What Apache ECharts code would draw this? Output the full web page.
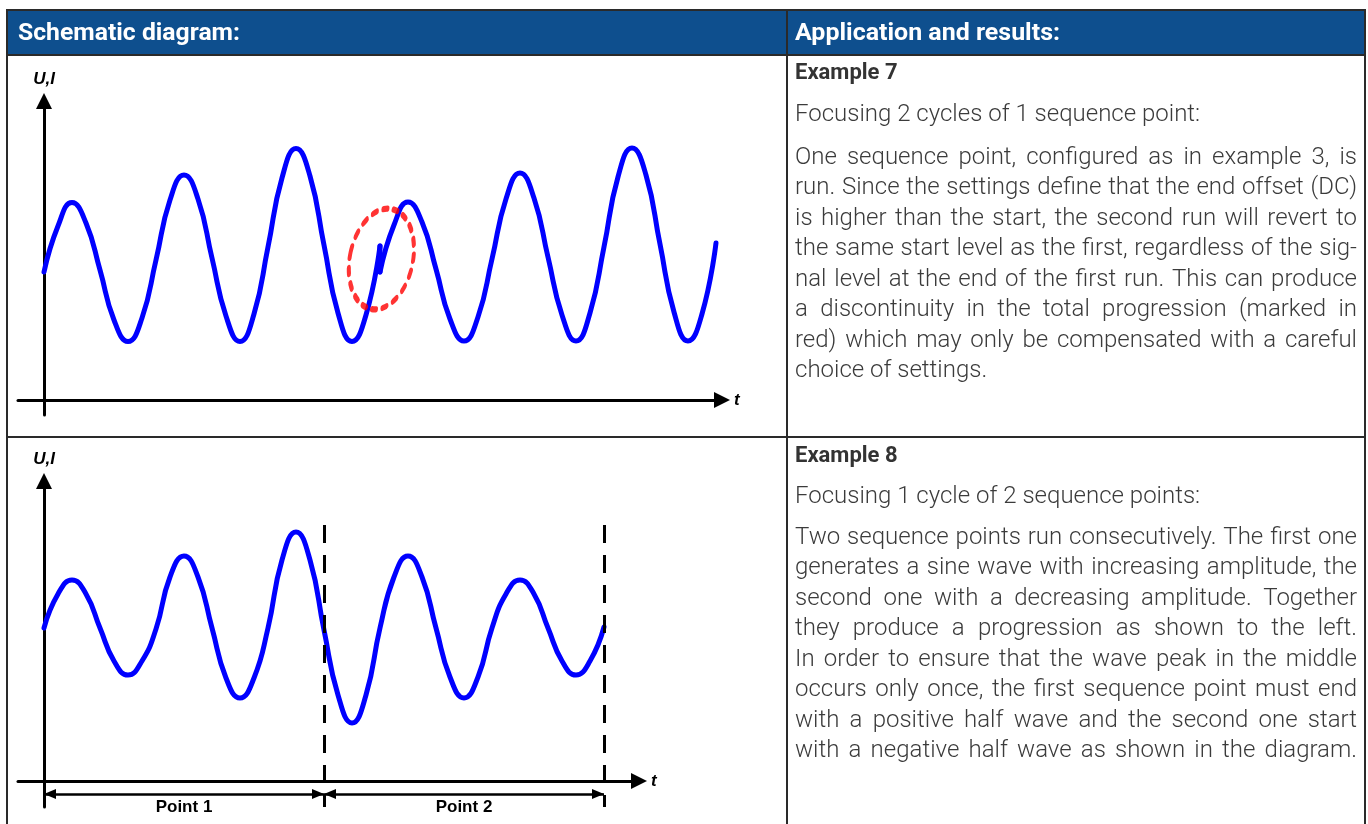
<!DOCTYPE html>
<html><head><meta charset="utf-8">
<script src="https://cdn.jsdelivr.net/npm/echarts@6.0.0/dist/echarts.min.js"></script>
<style>html,body{margin:0;padding:0;background:#fff}#main{width:1368px;height:824px}</style>
</head><body><div id="main"></div>
<script>
// ---------------- data ----------------
// Example 7 – one sequence point run twice; samples every 1/8 cycle, level above the t axis
const run1Values = [128, 174, 197.5, 177, 130, 80, 58.5, 82, 140, 200, 225, 201, 142, 84, 58.5, 86, 153, 222, 251.5, 224, 155, 87, 58.5, 85, 154];
const run2Values = [128, 175, 198, 178, 131, 81, 59, 83, 141, 201, 227, 202, 143, 85, 59, 87, 153, 223, 252, 225, 156, 88, 59, 86, 157];
const jumpValues = [154, 128];          // end of run 1 -> start level of run 2
const discontinuity = [24.1, 141];      // marked in red
// Example 8 – two sequence points, increasing then decreasing amplitude
const point1Values = [153, 187, 201, 187, 153, 120, 106, 120, 152, 204, 225, 204, 153, 103, 83, 103, 153, 221, 249, 221, 151];
const point2Values = [151, 86, 58, 86, 153, 204, 225, 204, 153, 104, 83, 104, 153, 187, 201, 187, 153, 120, 106, 120, 154];
const pointBounds = [0, 20, 40];
const pointLabels = ['Point 1', 'Point 2'];
const dimLevel = -13;
const boundTop = 256;
// texts
const headerLabels = ['Schematic diagram:', 'Application and results:'];
const ex7Title = 'Example 7';
const ex7Sub = 'Focusing 2 cycles of 1 sequence point:';
const ex7Lines = [
  'One sequence point, configured as in example 3, is',
  'run. Since the settings define that the end offset (DC)',
  'is higher than the start, the second run will revert to',
  'the same start level as the first, regardless of the sig-',
  'nal level at the end of the first run. This can produce',
  'a discontinuity in the total progression (marked in',
  'red) which may only be compensated with a careful',
  'choice of settings.'
];
const ex8Title = 'Example 8';
const ex8Sub = 'Focusing 1 cycle of 2 sequence points:';
const ex8Lines = [
  'Two sequence points run consecutively. The first one',
  'generates a sine wave with increasing amplitude, the',
  'second one with a decreasing amplitude. Together',
  'they produce a progression as shown to the left.',
  'In order to ensure that the wave peak in the middle',
  'occurs only once, the first sequence point must end',
  'with a positive half wave and the second one start',
  'with a negative half wave as shown in the diagram.'
];

// ---------------- build ----------------
const run1Data = run1Values.map((v, i) => [i, v]);
const off2 = run1Values.length - 1;
const run2Data = run2Values.map((v, i) => [off2 + i, v]);
const jumpData = jumpValues.map(v => [off2, v]);
const waveValues = point1Values.concat(point2Values.slice(1));
const waveData = waveValues.map((v, i) => [i, v]);

const BLUE = '#0000ff';
const TEXT = '#3b3b3b';
const BORDER = '#2a2a2a';
const bodyFont = { weight: 300, size: 24, family: 'Roboto' };

const ctx = document.createElement('canvas').getContext('2d');
function fontStr(f) { return f.weight + ' ' + f.size + 'px ' + f.family; }

function justify(lines, x0, x1, y0, lh, f, lastLeft) {
  const els = [];
  const fs = fontStr(f);
  ctx.font = fs;
  const sp = ctx.measureText(' ').width;
  lines.forEach((line, i) => {
    const y = y0 + i * lh;
    const words = line.split(' ');
    const widths = words.map(w => ctx.measureText(w).width);
    const total = widths.reduce((a, b) => a + b, 0);
    const last = lastLeft && i === lines.length - 1;
    let gap = (!last && words.length > 1) ? (x1 - x0 - total) / (words.length - 1) : sp;
    let sx = 1;
    if (gap < sp * 0.5) {            // too long: keep a minimal gap and condense slightly
      gap = sp * 0.5;
      sx = (x1 - x0 - gap * (words.length - 1)) / total;
    }
    let x = x0;
    words.forEach((w, j) => {
      els.push({ type: 'text', x: x, y: y, silent: true, scaleX: sx, originX: 0, originY: 0,
        style: { text: w, font: fs, fill: TEXT, align: 'left', verticalAlign: 'middle', textAlign: 'left', textVerticalAlign: 'middle' } });
      x += widths[j] * sx + gap;
    });
  });
  return els;
}
function txt(s, x, y, font, fill, fitWidth) {
  const el = { type: 'text', x: x, y: y, silent: true,
    style: { text: s, font: font, fill: fill, align: 'left', verticalAlign: 'middle', textAlign: 'left', textVerticalAlign: 'middle' } };
  if (fitWidth) {
    ctx.font = font;
    const w = ctx.measureText(s).width;
    el.scaleX = fitWidth / w; el.originX = 0; el.originY = 0;
  }
  return el;
}
function hline(x1, x2, y) { return { type: 'line', silent: true, shape: { x1: x1, y1: y, x2: x2, y2: y }, style: { stroke: BORDER, lineWidth: 2 } }; }
function vline(x, y1, y2) { return { type: 'line', silent: true, shape: { x1: x, y1: y1, x2: x, y2: y2 }, style: { stroke: BORDER, lineWidth: 2 } }; }

const graphics = [
  { type: 'rect', silent: true, shape: { x: 7, y: 10, width: 1359, height: 45 }, style: { fill: '#0e4f8e' } },
  hline(6, 1366, 10), hline(6, 1366, 55), hline(6, 1366, 437),
  vline(7, 10, 824), vline(787, 10, 824), vline(1365, 10, 824),
  txt(headerLabels[0], 18, 34, 'bold 23px Roboto', '#ffffff', 222),
  txt(headerLabels[1], 795, 34, 'bold 23px Roboto', '#ffffff', 265),
  txt(ex7Title, 795, 73, 'bold 22px Roboto', '#333333'),
  txt(ex7Sub, 795, 115, fontStr(bodyFont), TEXT),
  txt(ex8Title, 795, 456, 'bold 22px Roboto', '#333333'),
  txt(ex8Sub, 795, 497, fontStr(bodyFont), TEXT)
].concat(justify(ex7Lines, 795, 1357, 158, 30.45, bodyFont, true))
 .concat(justify(ex8Lines, 795, 1357, 538, 30.45, bodyFont, false));

const nameStyle = { fontFamily: 'Liberation Sans', fontWeight: 'bold', fontStyle: 'italic', fontSize: 17, color: '#000' };
function xAx(idx, min, max) {
  return { type: 'value', gridIndex: idx, min: min, max: max, name: 't', nameLocation: 'end', nameGap: 12,
    nameTextStyle: Object.assign({}, nameStyle, { fontSize: 17 }),
    axisLine: { show: true, onZero: true, symbol: ['none', 'triangle'], symbolSize: [16, 16], lineStyle: { color: '#000', width: 3 } },
    axisTick: { show: false }, axisLabel: { show: false }, splitLine: { show: false } };
}
function yAx(idx, min, max) {
  return { type: 'value', gridIndex: idx, min: min, max: max, name: 'U,I', nameLocation: 'end', nameGap: 13,
    nameTextStyle: nameStyle,
    axisLine: { show: true, onZero: true, symbol: ['none', 'triangle'], symbolSize: [16, 16], lineStyle: { color: '#000', width: 3 } },
    axisTick: { show: false }, axisLabel: { show: false }, splitLine: { show: false } };
}
const waveLine = { color: BLUE, width: 5, cap: 'round', join: 'round' };

const boundLines = pointBounds.slice(1).map(b => [
  { coord: [b, boundTop], symbol: 'none', lineStyle: { type: [18, 12], width: 3, color: '#000' }, label: { show: false } },
  { coord: [b, -26], symbol: 'none' }
]);
const dimLines = pointLabels.map((lab, i) => [
  { coord: [pointBounds[i], dimLevel], symbol: 'triangle', symbolSize: [10, 12], symbolOffset: [0, 6],
    lineStyle: { type: 'solid', width: 2.5, color: '#000' },
    label: { show: true, formatter: lab, position: 'insideMiddleBottom', distance: 5, color: '#000',
      fontFamily: 'Liberation Sans', fontWeight: 'bold', fontSize: 17 } },
  { coord: [pointBounds[i + 1], dimLevel], symbol: 'triangle', symbolSize: [10, 12], symbolOffset: [0, 6] }
]);

const option = {
  animation: false,
  backgroundColor: '#ffffff',
  grid: [
    { left: 18, top: 101, width: 704, height: 314 },
    { left: 18, top: 481, width: 621, height: 326 }
  ],
  xAxis: [xAx(0, -1.857, 48.43), xAx(1, -1.857, 42.5)],
  yAxis: [yAx(0, -15, 299), yAx(1, -26, 300)],
  graphic: graphics,
  series: [
    { type: 'line', xAxisIndex: 0, yAxisIndex: 0, data: run1Data, smooth: true, symbol: 'none', lineStyle: waveLine, z: 3 },
    { type: 'line', xAxisIndex: 0, yAxisIndex: 0, data: jumpData, smooth: false, symbol: 'none', lineStyle: waveLine, z: 3 },
    { type: 'line', xAxisIndex: 0, yAxisIndex: 0, data: run2Data, smooth: true, symbol: 'none', lineStyle: waveLine, z: 3 },
    { type: 'scatter', xAxisIndex: 0, yAxisIndex: 0, data: [discontinuity], z: 5, silent: true,
      symbol: 'path://M0,50 A50,50 0 1,1 100,50 A50,50 0 1,1 0,50 Z', symbolKeepAspect: false,
      symbolSize: [63, 102], symbolRotate: -12,
      itemStyle: { color: 'rgba(0,0,0,0)', borderColor: '#ff0000', borderWidth: 5, borderType: [5, 8], borderCap: 'round' } },
    { type: 'line', xAxisIndex: 1, yAxisIndex: 1, data: waveData, smooth: true, symbol: 'none', lineStyle: waveLine, z: 3,
      markLine: { silent: true, animation: false, symbol: ['none', 'none'], label: { show: false },
        data: boundLines.concat(dimLines) } }
  ]
};
const chart = echarts.init(document.getElementById('main'), null, { renderer: 'canvas', width: 1368, height: 824 });
chart.setOption(option);
</script></body></html>
